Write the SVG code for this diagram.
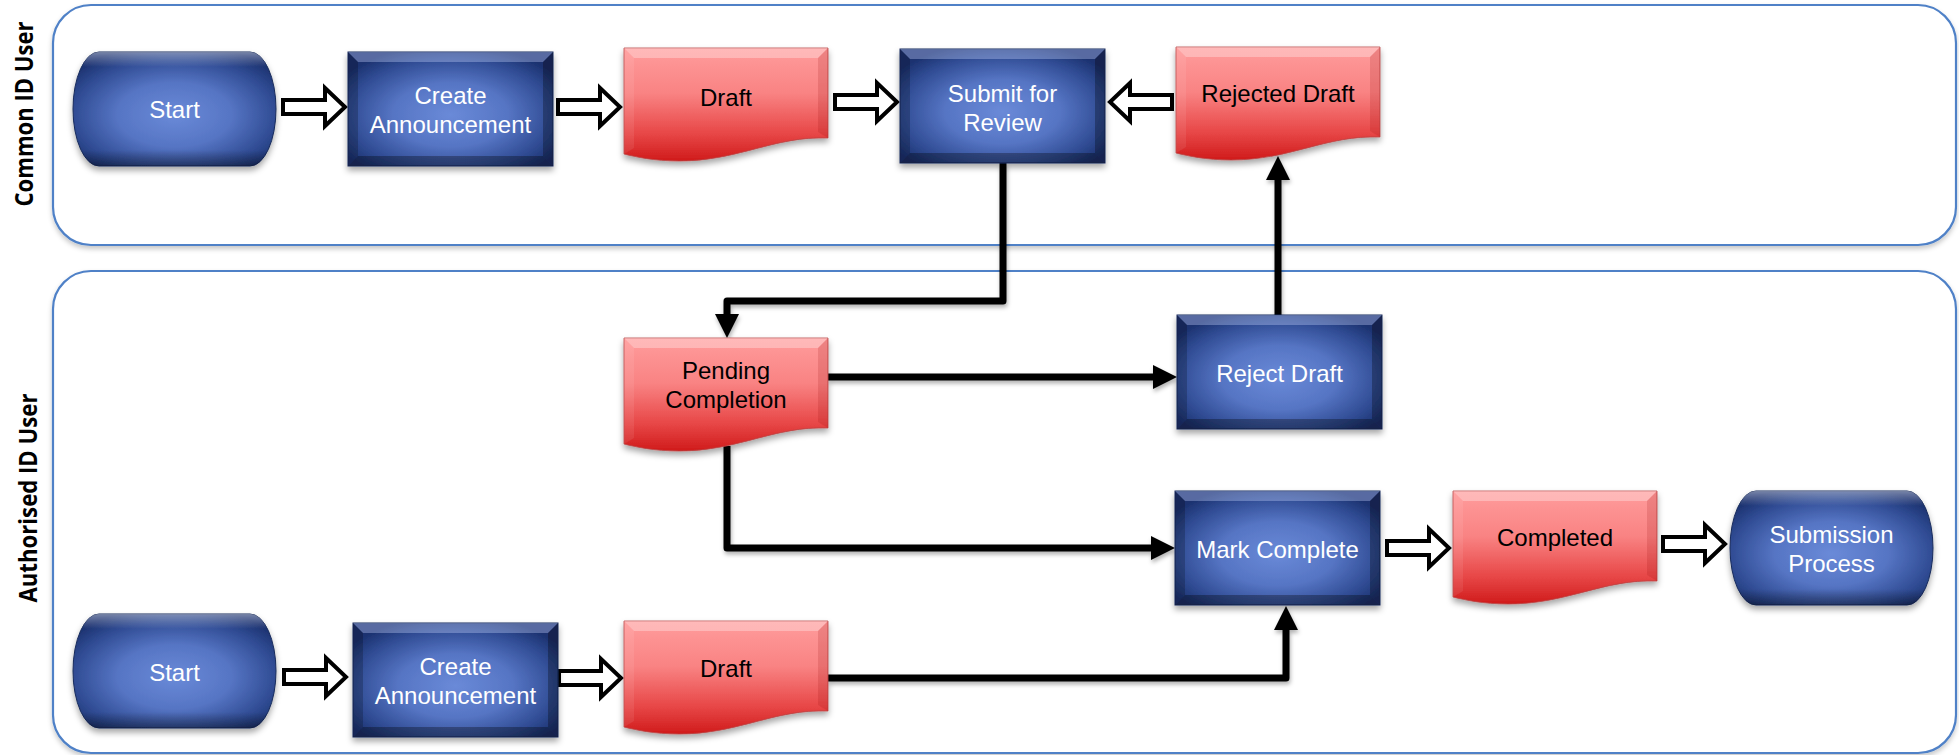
<svg xmlns="http://www.w3.org/2000/svg" width="1959" height="755" viewBox="0 0 1959 755">
<defs>
<style>
.lane{fill:#fff;stroke:#4f81c7;stroke-width:2.2}
.lbl{font-family:"Open Sans","Liberation Sans",sans-serif;font-weight:700;font-size:25px;fill:#000;text-anchor:middle}
.t{font-family:"Liberation Sans",Arial,sans-serif;font-size:24px;text-anchor:middle}
.tw{fill:#fff}
.tb{fill:#000}
.ln{fill:none;stroke:#000;stroke-width:7;stroke-linejoin:round;marker-end:url(#ah)}
.ha{fill:#fff;stroke:#000;stroke-width:4;stroke-linejoin:miter}
</style>
<filter id="shLane" x="-2%" y="-5%" width="104%" height="115%"><feDropShadow dx="0" dy="3" stdDeviation="2.5" flood-color="#000" flood-opacity="0.22"/></filter>
<filter id="shNode" x="-10%" y="-10%" width="125%" height="135%"><feDropShadow dx="0" dy="4" stdDeviation="3" flood-color="#000" flood-opacity="0.35"/></filter>
<filter id="shLine" x="-5%" y="-5%" width="110%" height="110%"><feDropShadow dx="1" dy="3" stdDeviation="2" flood-color="#000" flood-opacity="0.3"/></filter>
<radialGradient id="gBlue" cx="0.5" cy="0.55" r="0.62">
<stop offset="0" stop-color="#6a8ad8"/>
<stop offset="0.45" stop-color="#5675c4"/>
<stop offset="0.8" stop-color="#304c94"/>
<stop offset="1" stop-color="#1c3270"/>
</radialGradient>
<linearGradient id="gBev" x1="0" y1="0" x2="0" y2="1">
<stop offset="0" stop-color="#fff" stop-opacity="0.4"/>
<stop offset="0.09" stop-color="#fff" stop-opacity="0.12"/>
<stop offset="0.13" stop-color="#fff" stop-opacity="0"/>
<stop offset="0.86" stop-color="#000" stop-opacity="0"/>
<stop offset="0.93" stop-color="#000" stop-opacity="0.18"/>
<stop offset="1" stop-color="#000" stop-opacity="0.35"/>
</linearGradient>
<linearGradient id="gRed" x1="0" y1="0" x2="0" y2="1">
<stop offset="0" stop-color="#ff9c9c"/>
<stop offset="0.4" stop-color="#f98383"/>
<stop offset="0.75" stop-color="#e84848"/>
<stop offset="1" stop-color="#d01b1b"/>
</linearGradient>
<marker id="ah" viewBox="0 0 24 24" refX="0" refY="12" markerWidth="24" markerHeight="24" markerUnits="userSpaceOnUse" orient="auto"><path d="M0,0 L24,12 L0,24 Z" fill="#000"/></marker>
<g id="proc">
<rect width="205" height="114" fill="url(#gBlue)" stroke="#182b5c" stroke-width="1"/>
<polygon points="0,0 205,0 195,10 10,10" fill="#c8d6ff" opacity="0.35"/>
<polygon points="0,114 205,114 195,104 10,104" fill="#000" opacity="0.3"/>
<polygon points="0,0 10,10 10,104 0,114" fill="#000" opacity="0.2"/>
<polygon points="205,0 195,10 195,104 205,114" fill="#000" opacity="0.28"/>
</g>
<g id="term">
<rect width="203" height="114" rx="26" ry="57" fill="url(#gBlue)" stroke="#182b5c" stroke-width="1"/>
<rect width="203" height="114" rx="26" ry="57" fill="url(#gBev)"/>
</g>
<g id="doc">
<path d="M0,0 H204 V90 C150,88 115,113 55,113 C30,113 12,109 0,106 Z" fill="url(#gRed)" stroke="#b84545" stroke-width="0.8"/>
<polygon points="0,0 204,0 194,10 10,10" fill="#fff" opacity="0.3"/>
<polygon points="204,0 194,10 194,84 204,90" fill="#8a0000" opacity="0.15"/>
<polygon points="0,0 10,10 10,100 0,106" fill="#fff" opacity="0.08"/>
</g>
<path id="ha" class="ha" d="M2,-7 H44 V-19 L64,0 L44,19 V7 H2 Z"/>
</defs>

<g id="lanes">
<rect class="lane" x="53" y="5" width="1903" height="240" rx="38" ry="38" filter="url(#shLane)"/>
<rect class="lane" x="53" y="271" width="1903" height="482" rx="38" ry="38" filter="url(#shLane)"/>
<text class="lbl" transform="translate(33,114) rotate(-90)" textLength="185" lengthAdjust="spacingAndGlyphs">Common ID User</text>
<text class="lbl" transform="translate(37,498) rotate(-90)" textLength="209" lengthAdjust="spacingAndGlyphs">Authorised ID User</text>
</g>

<g id="connectors">
<g filter="url(#shLine)">
<path class="ln" d="M1003,163 V301 H727 V314"/>
<path class="ln" d="M828,377 H1153"/>
<path class="ln" d="M1278,315 V180"/>
<path class="ln" d="M727,446 V548 H1151"/>
<path class="ln" d="M828,678 H1286 V630"/>
</g>
<use href="#ha" transform="translate(281,107)"/>
<use href="#ha" transform="translate(556,107)"/>
<use href="#ha" transform="translate(833,102)"/>
<use href="#ha" transform="translate(1174,102) scale(-1,1)"/>
<use href="#ha" transform="translate(282,677)"/>
<use href="#ha" transform="translate(557,678)"/>
<use href="#ha" transform="translate(1385,548)"/>
<use href="#ha" transform="translate(1661,544)"/>
</g>

<g id="node-start-1" transform="translate(73,52)">
<use href="#term" filter="url(#shNode)"/>
<text class="t tw" x="101.5" y="66">Start</text>
</g>
<g id="node-create-1" transform="translate(348,52)">
<use href="#proc" filter="url(#shNode)"/>
<text class="t tw" x="102.5" y="52">Create</text>
<text class="t tw" x="102.5" y="81">Announcement</text>
</g>
<g id="node-draft-1" transform="translate(624,48)">
<use href="#doc" filter="url(#shNode)"/>
<text class="t tb" x="102" y="58">Draft</text>
</g>
<g id="node-submit" transform="translate(900,49)">
<use href="#proc" filter="url(#shNode)"/>
<text class="t tw" x="102.5" y="53">Submit for</text>
<text class="t tw" x="102.5" y="82">Review</text>
</g>
<g id="node-rejected-draft" transform="translate(1176,47)">
<use href="#doc" filter="url(#shNode)"/>
<text class="t tb" x="102" y="55">Rejected Draft</text>
</g>
<g id="node-pending" transform="translate(624,338)">
<use href="#doc" filter="url(#shNode)"/>
<text class="t tb" x="102" y="41">Pending</text>
<text class="t tb" x="102" y="70">Completion</text>
</g>
<g id="node-reject-draft" transform="translate(1177,315)">
<use href="#proc" filter="url(#shNode)"/>
<text class="t tw" x="102.5" y="67">Reject Draft</text>
</g>
<g id="node-mark-complete" transform="translate(1175,491)">
<use href="#proc" filter="url(#shNode)"/>
<text class="t tw" x="102.5" y="67">Mark Complete</text>
</g>
<g id="node-completed" transform="translate(1453,491)">
<use href="#doc" filter="url(#shNode)"/>
<text class="t tb" x="102" y="55">Completed</text>
</g>
<g id="node-submission" transform="translate(1730,491)">
<use href="#term" filter="url(#shNode)"/>
<text class="t tw" x="101.5" y="52">Submission</text>
<text class="t tw" x="101.5" y="81">Process</text>
</g>
<g id="node-start-2" transform="translate(73,614)">
<use href="#term" filter="url(#shNode)"/>
<text class="t tw" x="101.5" y="67">Start</text>
</g>
<g id="node-create-2" transform="translate(353,623)">
<use href="#proc" filter="url(#shNode)"/>
<text class="t tw" x="102.5" y="52">Create</text>
<text class="t tw" x="102.5" y="81">Announcement</text>
</g>
<g id="node-draft-2" transform="translate(624,621)">
<use href="#doc" filter="url(#shNode)"/>
<text class="t tb" x="102" y="56">Draft</text>
</g>
</svg>
